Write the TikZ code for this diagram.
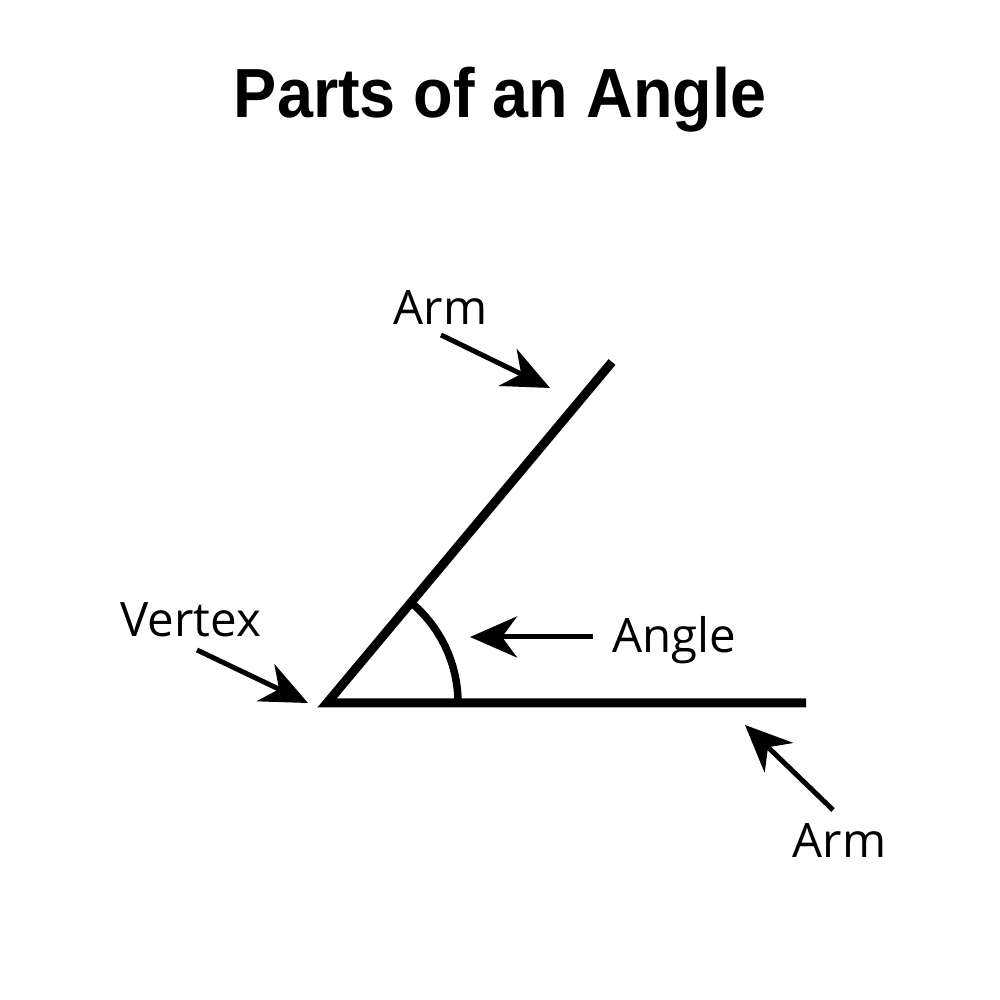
\documentclass[tikz,border=0pt]{standalone}
\usepackage{fontspec}
\setmainfont{Open Sans}
\newfontfamily\titlefont[FakeStretch=0.93]{Liberation Sans}
\usepackage{tikz}
\usetikzlibrary{arrows.meta}

\begin{document}
\begin{tikzpicture}[
  ray/.style={line width=0.09cm, line join=miter},
  arc/.style={line width=0.075cm},
  label/.style={font=\fontsize{13.5}{16}\selectfont, inner sep=0pt, anchor=base west},
  pointer/.style={line width=0.05cm, -{Stealth[length=0.47cm, width=0.41cm, inset=0.15cm]}}
]
\useasboundingbox (0,0) rectangle (10,10);

\node[font=\titlefont\bfseries\fontsize{19.8}{24}\selectfont, anchor=base] (title) at (5,8.82) {Parts of an Angle};

% the angle
\coordinate (vertex) at (3.27,2.97);
\coordinate (armend) at (6.12,6.38);
\coordinate (baseend) at (8.06,2.97);
\draw[ray] (armend) -- (vertex) -- (baseend);
\draw[arc] ([xshift=1.31cm]vertex) arc[start angle=0, end angle=50.1, radius=1.31cm];

% labels
\node[label] (armtop) at (3.93,6.75) {Arm};
\node[label] (vtx) at (1.20,3.63) {Vertex};
\node[label] (ang) at (6.12,3.47) {Angle};
\node[label] (armlow) at (7.92,1.42) {Arm};

% pointers
\coordinate (armtop-tail) at (4.41,6.65);
\coordinate (armtop-tip) at (5.50,6.12);
\coordinate (vtx-tail) at (1.97,3.50);
\coordinate (vtx-tip) at (3.08,2.97);
\coordinate (ang-tail) at (5.93,3.63);
\coordinate (ang-tip) at (4.70,3.63);
\coordinate (armlow-tail) at (8.33,1.90);
\coordinate (armlow-tip) at (7.45,2.75);
\draw[pointer] (armtop-tail) -- (armtop-tip);
\draw[pointer] (vtx-tail) -- (vtx-tip);
\draw[pointer] (ang-tail) -- (ang-tip);
\draw[pointer] (armlow-tail) -- (armlow-tip);
\end{tikzpicture}
\end{document}
